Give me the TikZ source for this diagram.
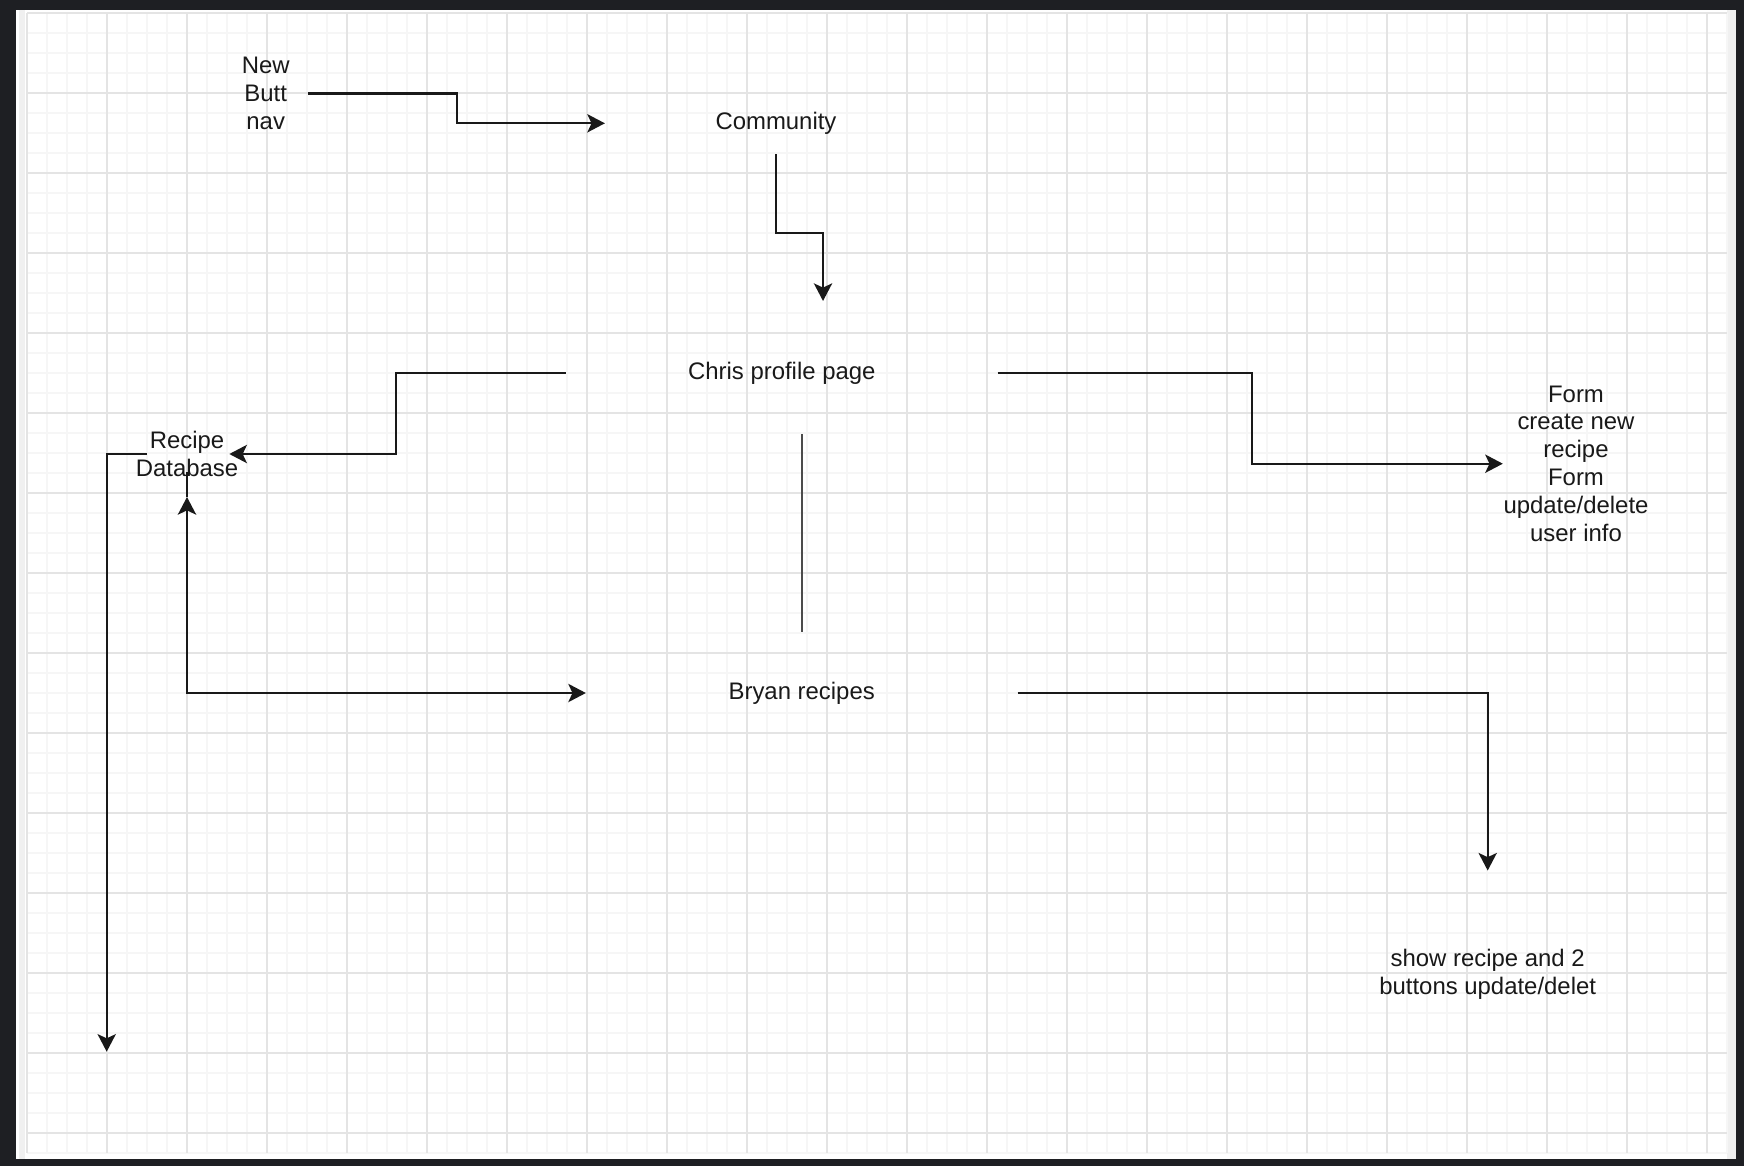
\documentclass[tikz,border=0pt]{standalone}
\usepackage{fontspec}
\setmainfont{Liberation Sans}
\usetikzlibrary{arrows.meta}
\definecolor{framedark}{RGB}{30,31,35}
\definecolor{gridminor}{RGB}{246,246,246}
\definecolor{gridmajor}{RGB}{228,228,228}

\begin{document}
\begin{tikzpicture}[x=0.01cm, y=-0.01cm,
    every node/.style={font=\fontsize{6.8}{7.93}\selectfont, align=center, inner sep=0pt, text=black!90},
    tip/.tip={Stealth[length=5pt, width=5.2pt, inset=1.2pt]},
    flow/.style={-tip, line width=0.6pt, draw=black!90},
    plain/.style={line width=0.55pt, draw=black!70}]
    % page and grid
    \fill[framedark] (0,0) rectangle (1744,1166);
    \fill[white] (16,10) rectangle (1736,1159);
    \fill[black!6] (1727,10) rectangle (1736,1159);
    \fill[black!6] (19,10) rectangle (25,1159);
    \foreach \x in {27,47,...,1727} \draw[gridminor, line width=0.35pt] (\x,13) -- (\x,1153);
    \foreach \y in {13,33,...,1153} \draw[gridminor, line width=0.35pt] (27,\y) -- (1727,\y);
    \foreach \x in {27,107,...,1707} \draw[gridmajor, line width=0.4pt] (\x,13) -- (\x,1153);
    \foreach \y in {13,93,...,1133} \draw[gridmajor, line width=0.4pt] (27,\y) -- (1727,\y);

    \node (nav)       [minimum width=0.84cm]                        at (265.7,93.5)  {New\\Butt\\nav};
    \node (community) [minimum width=3.406cm, minimum height=0.6cm] at (776,123.3)   {Community};
    \node (chris)     [minimum width=4.3cm, minimum height=1.2cm]   at (781.8,373.3) {Chris profile page};
    \node (bryan)     [minimum width=4.3cm, minimum height=1.2cm]   at (801.7,693)   {Bryan recipes};
    \node (db)                                                      at (187,454)     {Recipe\\Database};
    \node (form)                                                    at (1576,463.7)  {Form\\create new\\recipe\\Form\\update/delete\\user info};
    \node (show)      [minimum height=2.06cm]                       at (1487.7,974.3) {show recipe and 2\\buttons update/delet};
    \coordinate (dbend) at (106.7,1051.7);

    \draw[flow] (nav.east) -- ++(148.9,0) |- (community.west);
    \draw[flow] (community.south) -- ++(0,79) -| ([xshift=0.412cm, yshift=0.116cm]chris.north);
    \draw[flow] (chris.west) -- ++(-170.3,0) |- ([xshift=0.423cm]db.center);
    \draw[flow] ([xshift=-0.403cm]db.center) -| (dbend);
    \draw[flow, tip-tip] ([yshift=-0.43cm]db.center) |- (bryan.west);
    \draw[flow, -] ([yshift=-0.43cm]db.center) -- ([yshift=-0.18cm]db.center);
    \draw[plain] (chris.south -| bryan.north) -- (bryan.north);
    \draw[flow] (chris.east) -- ++(254.4,0) |- (form.west);
    \draw[flow] (bryan.east) -| (show.north);
\end{tikzpicture}
\end{document}
